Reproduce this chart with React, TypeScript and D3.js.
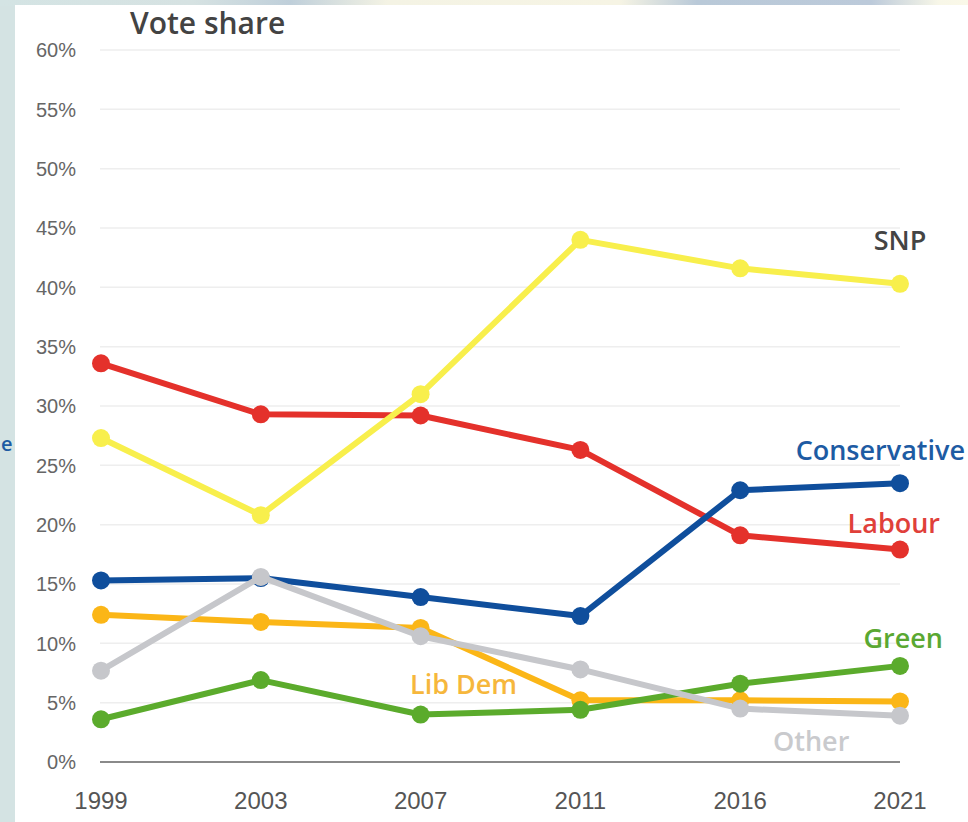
import React from "react";
import * as d3 from "d3";

const years = ["1999", "2003", "2007", "2011", "2016", "2021"];
const yTicks = [0, 5, 10, 15, 20, 25, 30, 35, 40, 45, 50, 55, 60];

const labour = [33.6, 29.3, 29.2, 26.3, 19.1, 17.9];
const snp = [27.3, 20.8, 31.0, 44.0, 41.6, 40.3];
const conservative = [15.3, 15.5, 13.9, 12.3, 22.9, 23.5];
const libDem = [12.4, 11.8, 11.3, 5.2, 5.2, 5.1];
const green = [3.6, 6.9, 4.0, 4.4, 6.6, 8.1];
const other = [7.7, 15.6, 10.6, 7.8, 4.5, 3.9];

const W = 968;
const H = 822;

const series = [
  { name: "Labour", values: labour, color: "#e4312b", lx: 940, ly: 533, anchor: "end", lc: "#e0403a" },
  { name: "SNP", values: snp, color: "#f8ef4c", lx: 900, ly: 250, anchor: "middle", lc: "#444444" },
  { name: "Conservative", values: conservative, color: "#0f4e9c", lx: 965, ly: 460, anchor: "end", lc: "#1d5ba3" },
  { name: "Lib Dem", values: libDem, color: "#fbb617", lx: 410, ly: 694, anchor: "start", lc: "#f6b73c" },
  { name: "Green", values: green, color: "#5bab2c", lx: 943, ly: 648, anchor: "end", lc: "#5aa832" },
  { name: "Other", values: other, color: "#c6c7cb", lx: 773, ly: 751, anchor: "start", lc: "#c9cacd" },
];

export default function App() {
  const x = d3.scalePoint<string>().domain(years).range([101, 900]);
  const y = d3.scaleLinear().domain([0, 60]).range([762, 50]);
  const line = d3
    .line<number>()
    .x((_, i) => x(years[i]) as number)
    .y((d) => y(d));

  return (
    <svg
      width={W}
      height={H}
      style={{ position: "fixed", left: 0, top: 0, display: "block" }}
    >
      <defs>
        <linearGradient id="topg" x1="0" x2="1" y1="0" y2="0">
          <stop offset="0" stopColor="#d4e4e4" />
          <stop offset="0.2" stopColor="#d6e2e2" />
          <stop offset="0.3" stopColor="#bfcfda" />
          <stop offset="0.4" stopColor="#f4f3e4" />
          <stop offset="0.64" stopColor="#f6f4e4" />
          <stop offset="0.72" stopColor="#b9c9d8" />
          <stop offset="0.9" stopColor="#bccada" />
          <stop offset="0.97" stopColor="#f8f7e8" />
          <stop offset="1" stopColor="#faf8e8" />
        </linearGradient>
      </defs>
      <rect x={0} y={0} width={W} height={H} fill="#d4e3e3" />
      <rect x={0} y={0} width={W} height={6} fill="url(#topg)" />
      <rect x={15} y={5} width={W - 15} height={H - 5} fill="#ffffff" />
      <text x={1} y={451} fontFamily="Open Sans" fontWeight={600} fontSize={20} fill="#1d5ba3">
        e
      </text>

      <text
        x={130}
        y={34}
        fontFamily="Open Sans"
        fontWeight={600}
        fontSize={30}
        fill="#434343"
      >
        Vote share
      </text>

      {yTicks.map((t) => (
        <g key={t}>
          {t !== 0 && (
            <line x1={100} x2={900} y1={y(t)} y2={y(t)} stroke="#eeeeee" strokeWidth={1.5} />
          )}
          <text
            x={76}
            y={y(t)}
            dy="0.36em"
            textAnchor="end"
            fontFamily="Liberation Sans, Arial, sans-serif"
            fontSize={20}
            fill="#666666"
          >
            {t}%
          </text>
        </g>
      ))}
      <line x1={100} x2={900} y1={y(0)} y2={y(0)} stroke="#8a8a8a" strokeWidth={2} />

      {years.map((yr) => (
        <text
          key={yr}
          x={x(yr)}
          y={809}
          textAnchor="middle"
          fontFamily="Liberation Sans, Arial, sans-serif"
          fontSize={24}
          fill="#555555"
        >
          {yr}
        </text>
      ))}

      {series.map((s) => (
        <g key={s.name}>
          <path d={line(s.values) || ""} fill="none" stroke={s.color} strokeWidth={6} strokeLinejoin="round" />
          {s.values.map((v, i) => (
            <circle key={i} cx={x(years[i])} cy={y(v)} r={9} fill={s.color} />
          ))}
        </g>
      ))}

      {series.map((s) => (
        <text
          key={s.name + "-label"}
          x={s.lx}
          y={s.ly}
          textAnchor={s.anchor as any}
          fontFamily="Open Sans"
          fontWeight={600}
          fontSize={27}
          fill={s.lc}
        >
          {s.name}
        </text>
      ))}
    </svg>
  );
}
